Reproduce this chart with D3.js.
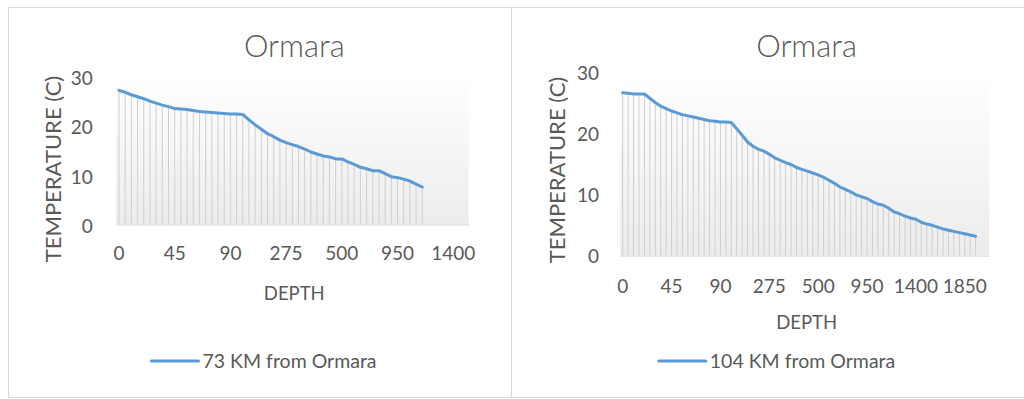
<!DOCTYPE html>
<html>
<head>
<meta charset="utf-8">
<script src="https://cdn.jsdelivr.net/npm/d3@7"></script>
<style>
  body { margin: 0; background: #fff; }
  svg { display: block; }
  text { font-family: Lato, "Open Sans", sans-serif; fill: #595959; }
</style>
</head>
<body>
<svg id="chart" width="1024" height="399"></svg>
<script>
// Standard depth levels (m) used as the category axis
const depthLevels = ["0","5","10","15","20","25","30","35","40","45","50","55","60","65","70","75","80","85","90","95","100",
  "125","150","175","200","225","250","275","300","325","350","375","400","425","450","475","500",
  "550","600","650","700","750","800","850","900","950","1000","1050","1100","1150","1200","1250","1300","1350","1400",
  "1450","1500","1550","1600","1650","1700","1750","1800","1850","1900","1950","2000","2100"];

// Temperature profile (°C), 73 km from Ormara
const temp73km = [27.2,26.8,26.3,25.9,25.5,25.0,24.6,24.2,23.9,23.5,23.4,23.3,23.1,22.9,22.8,22.7,22.6,22.5,22.4,22.4,
  22.3,21.2,20.2,19.3,18.4,17.8,17.1,16.6,16.2,15.8,15.3,14.7,14.3,13.9,13.7,13.3,13.3,12.7,12.2,11.6,
  11.3,10.9,10.9,10.3,9.7,9.5,9.2,8.8,8.2,7.6];

// Temperature profile (°C), 104 km from Ormara
const temp104km = [26.8,26.7,26.6,26.6,26.6,25.9,25.2,24.6,24.2,23.8,23.5,23.2,23.0,22.8,22.6,22.4,22.2,22.1,22.0,22.0,
  21.9,20.9,19.8,18.7,18.0,17.5,17.2,16.7,16.1,15.7,15.3,15.0,14.5,14.2,13.9,13.6,13.3,12.9,12.4,11.9,
  11.3,10.9,10.5,10.0,9.7,9.4,8.9,8.5,8.3,7.8,7.2,6.9,6.5,6.2,6.0,5.5,5.2,5.0,4.7,4.4,
  4.2,4.0,3.8,3.6,3.4,3.2];

const yTicks = [0, 10, 20, 30];
const xTicks73 = ["0","45","90","275","500","950","1400"];
const xTicks104 = ["0","45","90","275","500","950","1400","1850"];

const chartTitle = "Ormara";
const xTitle = "DEPTH";
const yTitle = "TEMPERATURE (C)";

const svg = d3.select("#chart");
const defs = svg.append("defs");
const grad = defs.append("linearGradient").attr("id", "plotFill")
  .attr("x1", 0).attr("y1", 0).attr("x2", 0).attr("y2", 1);
grad.append("stop").attr("offset", "0%").attr("stop-color", "#ffffff");
grad.append("stop").attr("offset", "100%").attr("stop-color", "#ececec");

const charts = [
  { panel: [8.5, 7.5, 503, 390], categoryCount: 57, values: temp73km, ticks: xTicks73,
    legend: "73 KM from Ormara",
    plot: { left: 115.9, right: 468.7, top: 76.5, bottom: 224.5 },
    tickPadX: 22, tickPadY: 23, yLabelShift: 2, titleY: 57, xTitleY: 300, yTitleX: 53, yTitleY: 169, legendY: 361, legendCx: 264 },
  { panel: [511.5, 7.5, 520, 390], categoryCount: 68, values: temp104km, ticks: xTicks104,
    legend: "104 KM from Ormara",
    plot: { left: 620, right: 989.2, top: 73.3, bottom: 255.7 },
    tickPadX: 24, tickPadY: 21, yLabelShift: 0.5, titleY: 57, xTitleY: 329, yTitleX: 557, yTitleY: 170, legendY: 361, legendCx: 777 }
];

charts.forEach(cfg => {
  const g = svg.append("g");
  const p = cfg.plot;

  // chart frame
  g.append("rect")
    .attr("x", cfg.panel[0]).attr("y", cfg.panel[1])
    .attr("width", cfg.panel[2]).attr("height", cfg.panel[3])
    .attr("fill", "#fff").attr("stroke", "#d9d9d9").attr("stroke-width", 1);

  const cats = depthLevels.slice(0, cfg.categoryCount);
  const x = d3.scaleBand().domain(cats).range([p.left, p.right]).paddingInner(0).paddingOuter(0);
  const cx = d => x(d) + x.bandwidth() / 2;
  const y = d3.scaleLinear().domain([0, 30]).range([p.bottom, p.top]);

  const pts = cfg.values.map((v, i) => ({ cat: cats[i], v }));

  // plot area
  g.append("rect")
    .attr("x", p.left).attr("y", y(30))
    .attr("width", p.right - p.left).attr("height", y(0) - y(30))
    .attr("fill", "url(#plotFill)");

  // drop lines
  g.append("g").selectAll("line").data(pts).join("line")
    .attr("x1", d => cx(d.cat)).attr("x2", d => cx(d.cat))
    .attr("y1", d => y(d.v)).attr("y2", y(0))
    .attr("stroke", "#cfcfcf").attr("stroke-width", 1);

  // category axis
  const xAxis = g.append("g").attr("transform", `translate(0,${y(0)})`)
    .call(d3.axisBottom(x).tickValues(cfg.ticks).tickSize(0).tickPadding(cfg.tickPadX));
  xAxis.select(".domain").attr("stroke", "#d9d9d9").attr("stroke-width", 1);
  xAxis.selectAll("text").attr("font-size", 19).attr("fill", "#595959")
    .style("font-family", "Lato, 'Open Sans', sans-serif");

  // value axis
  const yAxis = g.append("g").attr("transform", `translate(${p.left},${cfg.yLabelShift})`)
    .call(d3.axisLeft(y).tickValues(yTicks).tickSize(0).tickPadding(cfg.tickPadY));
  yAxis.select(".domain").remove();
  yAxis.selectAll("text").attr("font-size", 19).attr("fill", "#595959")
    .style("font-family", "Lato, 'Open Sans', sans-serif");

  // series line
  g.append("path").datum(pts)
    .attr("d", d3.line().x(d => cx(d.cat)).y(d => y(d.v)))
    .attr("fill", "none").attr("stroke", "#5b9bd5").attr("stroke-width", 3)
    .attr("stroke-linejoin", "round").attr("stroke-linecap", "round");

  // titles
  const midX = (p.left + p.right) / 2 + 2;
  g.append("text").attr("x", midX).attr("y", cfg.titleY)
    .attr("text-anchor", "middle").attr("font-size", 31).attr("font-weight", 300).text(chartTitle);
  g.append("text").attr("x", midX).attr("y", cfg.xTitleY)
    .attr("text-anchor", "middle").attr("font-size", 18.5).text(xTitle);
  g.append("text")
    .attr("transform", `translate(${cfg.yTitleX},${cfg.yTitleY}) rotate(-90)`)
    .attr("text-anchor", "middle").attr("dy", "0.35em")
    .attr("font-size", 22).text(yTitle);

  // legend
  const lg = g.append("g");
  const lt = lg.append("text").attr("font-size", 19.5).attr("dy", "0.35em").text(cfg.legend);
  const tw = lt.node().getComputedTextLength();
  const total = 47 + 4 + tw;
  const lx = cfg.legendCx - total / 2;
  lg.append("line").attr("x1", lx).attr("x2", lx + 47)
    .attr("y1", cfg.legendY).attr("y2", cfg.legendY)
    .attr("stroke", "#5b9bd5").attr("stroke-width", 3).attr("stroke-linecap", "round");
  lt.attr("x", lx + 51).attr("y", cfg.legendY);
});
</script>
</body>
</html>
